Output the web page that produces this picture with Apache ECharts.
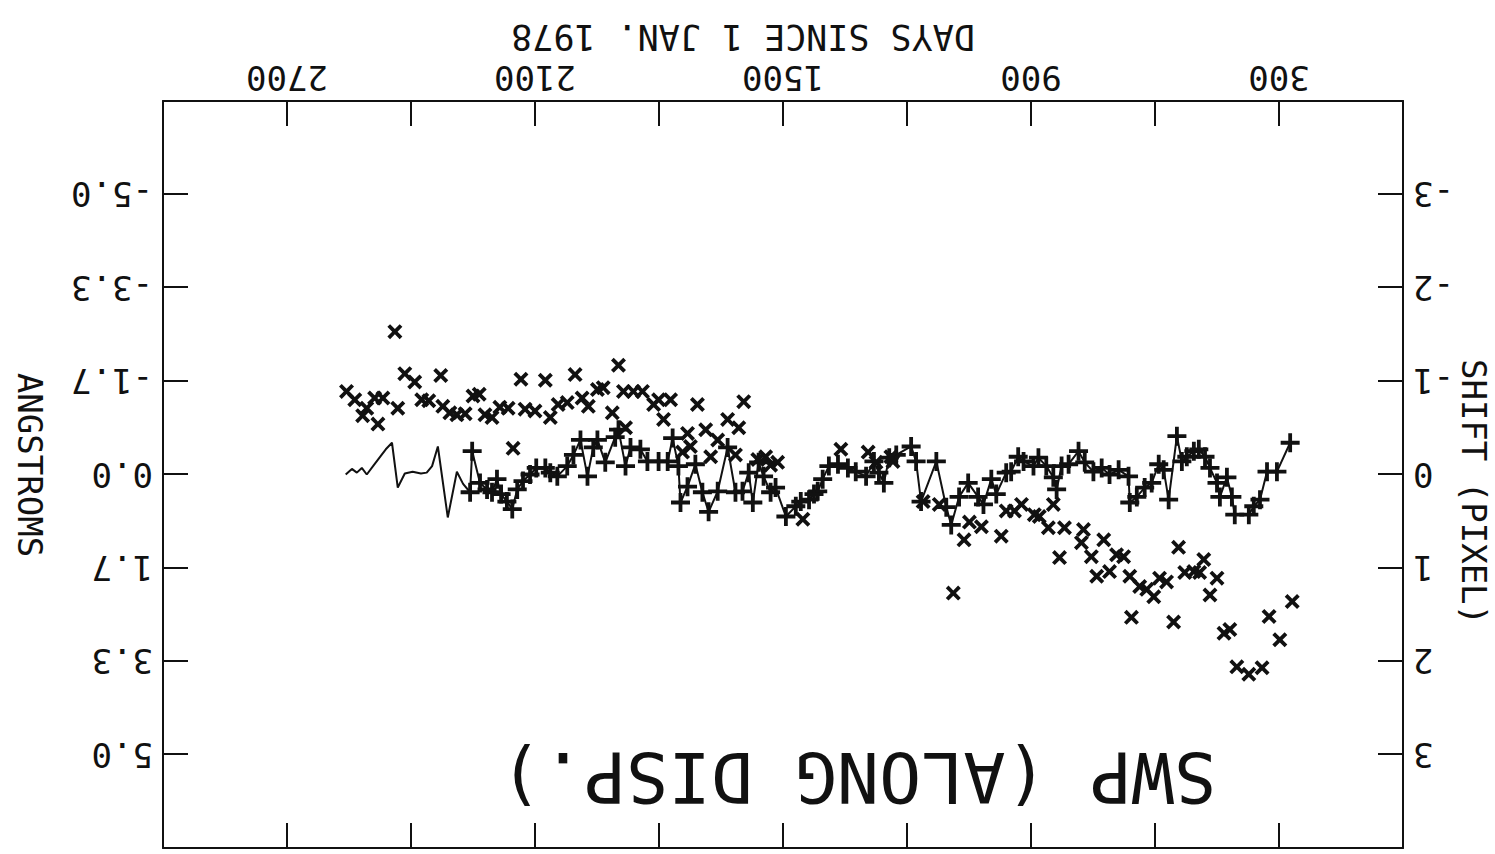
<!DOCTYPE html>
<html>
<head>
<meta charset="utf-8">
<script src="https://cdn.jsdelivr.net/npm/echarts@6/dist/echarts.min.js"></script>
<style>
html,body{margin:0;padding:0;background:#ffffff;}
#chart{width:1495px;height:854px;transform:rotate(180deg);transform-origin:50% 50%;}
</style>
</head>
<body>
<div id="chart"></div>
<script>
// ---- tick labels ----
const xTickLabels = [300, 900, 1500, 2100, 2700];
const shiftTickLabels = ['-3', '-2', '-1', '0', '1', '2', '3'];
const angstromTickLabels = ['-5.0', '-3.3', '-1.7', '0.0', '1.7', '3.3', '5.0'];

// ---- texts ----
const xTitle = 'DAYS SINCE 1 JAN. 1978';
const leftTitle = 'SHIFT (PIXEL)';
const rightTitle = 'ANGSTROMS';
const plotLabel = 'SWP (ALONG DISP.)';

// ---- line series ("+" points joined), days since 1 Jan 1978 / shift in pixels ----
const lineDays = [273,305,329,346,361,373,407,414,426,443,450,467,479,494,506,523,535,547,567,579,591,608,625,644,661,664,688,710,729,749,770,785,809,826,838,846,863,882,894,918,931,948,960,984,996,1015,1028,1052,1074,1093,1105,1129,1166,1178,1190,1226,1243,1256,1268,1280,1299,1324,1343,1367,1389,1404,1416,1425,1437,1457,1469,1493,1518,1530,1547,1559,1573,1583,1598,1615,1634,1658,1680,1695,1712,1731,1748,1753,1767,1779,1801,1828,1845,1869,1881,1898,1906,1930,1949,1959,1973,1990,2007,2022,2046,2063,2075,2097,2112,2129,2143,2155,2168,2182,2192,2204,2216,2233,2252,2257,2274,2289,2311,2335,2349,2362,2376,2396,2415,2432,2446,2461,2473,2490,2507,2519,2531,2543,2558];
const lineShift = [-0.34,-0.03,-0.03,0.27,0.34,0.43,0.43,0.24,0.03,0.24,0.09,-0.07,-0.19,-0.27,-0.25,-0.19,-0.14,-0.41,0.27,-0.05,-0.11,0.09,0.14,0.24,0.30,0.02,-0.05,0.00,-0.07,-0.03,-0.13,-0.25,-0.11,-0.09,0.16,0.03,-0.09,-0.18,-0.09,-0.14,-0.19,-0.03,-0.02,0.21,0.05,0.32,0.24,0.09,0.24,0.54,0.35,-0.14,0.29,-0.14,-0.30,-0.21,-0.18,0.09,-0.02,-0.14,0.02,-0.03,-0.07,-0.11,-0.09,0.05,0.18,0.21,0.27,0.29,0.34,0.45,0.14,0.19,0.02,-0.13,0.30,-0.02,0.18,0.19,-0.29,0.18,0.40,0.19,-0.11,0.13,0.30,-0.09,-0.39,-0.14,-0.14,-0.14,-0.27,-0.29,-0.09,-0.48,-0.40,-0.13,-0.37,-0.29,0.02,-0.37,-0.21,-0.09,0.02,-0.02,-0.07,-0.07,0.00,0.07,0.16,0.37,0.29,0.21,0.05,0.19,0.16,0.09,-0.25,0.19,0.10,-0.03,0.46,-0.30,-0.09,-0.02,-0.01,-0.03,-0.01,0.14,-0.34,-0.27,-0.20,-0.10,0.00,-0.07,-0.02,-0.06,0.00];
const plusMaxDay = 2260; // "+" marks are plotted on the line up to this day

// ---- "x" series ----
const crossDays = [268,298,324,341,373,402,419,433,450,467,482,492,506,528,543,555,572,589,603,620,637,657,661,676,693,710,724,741,754,773,778,819,831,846,858,880,892,923,940,960,972,1020,1049,1062,1088,1122,1161,1234,1239,1275,1294,1360,1452,1513,1530,1542,1561,1595,1607,1615,1634,1658,1675,1687,1707,1724,1731,1743,1772,1789,1801,1813,1840,1862,1881,1886,1898,1913,1935,1949,1971,1986,2003,2022,2044,2063,2075,2100,2124,2134,2153,2165,2185,2204,2221,2235,2250,2269,2289,2306,2323,2328,2357,2374,2391,2415,2432,2439,2468,2480,2488,2507,2517,2536,2556];
const crossShift = [1.36,1.77,1.52,2.07,2.14,2.06,1.66,1.70,1.11,1.29,0.91,1.05,1.04,1.05,0.78,1.58,1.15,1.11,1.31,1.23,1.20,1.53,1.09,0.88,0.86,1.04,0.70,1.09,0.88,0.59,0.73,0.57,0.89,0.32,0.57,0.45,0.43,0.32,0.39,0.39,0.66,0.56,0.51,0.70,1.27,0.32,0.29,-0.14,-0.19,-0.13,-0.24,-0.27,0.48,-0.13,-0.10,-0.19,-0.16,-0.78,-0.50,-0.21,-0.59,-0.37,-0.19,-0.48,-0.75,-0.30,-0.44,-0.24,-0.80,-0.59,-0.80,-0.75,-0.89,-0.89,-0.50,-0.89,-1.17,-0.66,-0.93,-0.91,-0.73,-0.82,-1.07,-0.77,-0.75,-0.61,-1.01,-0.68,-0.70,-1.02,-0.28,-0.71,-0.72,-0.61,-0.64,-0.86,-0.84,-0.65,-0.64,-0.66,-0.73,-1.06,-0.79,-0.80,-0.99,-1.08,-0.71,-1.53,-0.82,-0.54,-0.82,-0.71,-0.63,-0.80,-0.89];

// ---- build ----
const FONT = "'DejaVu Sans Mono', 'Liberation Mono', monospace";
const INK = '#111111';
const plusPath = 'path://M40,0H60V40H100V60H60V100H40V60H0V40H40Z';
const crossPath = 'path://M0,18L18,0L50,32L82,0L100,18L68,50L100,82L82,100L50,68L18,100L0,82L32,50Z';

const lineData = lineDays.map((d, i) => [d, lineShift[i]]);
const plusData = lineData.filter(p => p[0] <= plusMaxDay);
const crossData = crossDays.map((d, i) => [d, crossShift[i]]);

const tickStyle = {show: true, inside: true, length: 25, lineStyle: {color: INK, width: 2}};
const axisLineStyle = {show: true, onZero: false, lineStyle: {color: INK, width: 2}};
const labelFont = {fontFamily: FONT, fontSize: 34, color: INK};

function yLabel(arr) {
  return function (v) {
    const r = Math.round(v);
    const i = r + 3;
    return (i >= 0 && i < arr.length && Math.abs(v - r) < 1e-6) ? arr[i] : '';
  };
}

function txt(x, y, text, size, rot) {
  return {type: 'text', x: x, y: y, rotation: rot || 0,
          style: {text: text, fill: INK, font: size + 'px ' + FONT,
                  align: 'center', verticalAlign: 'middle', textAlign: 'center', textVerticalAlign: 'middle'}};
}

const chart = echarts.init(document.getElementById('chart'), null, {renderer: 'svg'});
chart.setOption({
  backgroundColor: '#ffffff',
  animation: false,
  grid: {left: 92, right: 163, top: 6, bottom: 101, show: false},
  xAxis: [
    {type: 'value', min: 0, max: 3000, interval: 300, position: 'bottom',
     axisLine: axisLineStyle, axisTick: tickStyle, splitLine: {show: false},
     axisLabel: Object.assign({margin: 6, formatter: v => xTickLabels.includes(v) ? String(v) : ''}, labelFont)},
    {type: 'value', min: 0, max: 3000, interval: 300, position: 'top',
     axisLine: axisLineStyle, axisTick: tickStyle, splitLine: {show: false},
     axisLabel: {show: false}}
  ],
  yAxis: [
    {type: 'value', min: -4, max: 4, interval: 1, position: 'left',
     axisLine: axisLineStyle, axisTick: tickStyle, splitLine: {show: false},
     axisLabel: Object.assign({margin: 10, formatter: yLabel(shiftTickLabels)}, labelFont)},
    {type: 'value', min: -4, max: 4, interval: 1, position: 'right',
     axisLine: axisLineStyle, axisTick: tickStyle, splitLine: {show: false},
     axisLabel: Object.assign({margin: 10, formatter: yLabel(angstromTickLabels)}, labelFont)}
  ],
  graphic: [
    txt(752, 817, xTitle, 35, 0),
    txt(21, 362, leftTitle, 34, Math.PI / 2),
    txt(1465, 389, rightTitle, 34, Math.PI / 2),
    txt(637, 77, plotLabel, 70, 0)
  ],
  series: [
    {type: 'line', data: lineData, xAxisIndex: 0, yAxisIndex: 0, symbol: 'none',
     lineStyle: {color: INK, width: 2}, z: 2},
    {type: 'scatter', data: plusData, xAxisIndex: 0, yAxisIndex: 0, symbol: plusPath, symbolSize: 19,
     itemStyle: {color: INK, opacity: 1}, z: 3},
    {type: 'scatter', data: crossData, xAxisIndex: 0, yAxisIndex: 0, symbol: crossPath, symbolSize: 15,
     itemStyle: {color: INK, opacity: 1}, z: 3}
  ]
});
</script>
</body>
</html>
